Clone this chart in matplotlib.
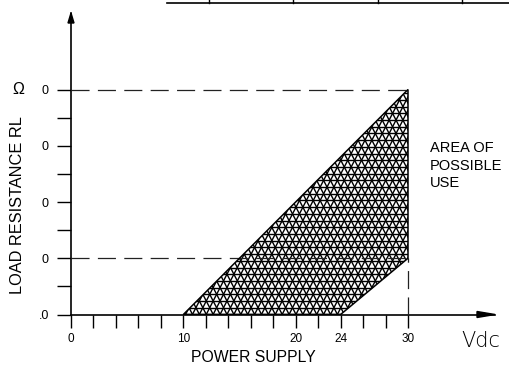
import numpy as np
import matplotlib
matplotlib.use("Agg")
import matplotlib.pyplot as plt
from matplotlib.patches import Polygon
from matplotlib.collections import LineCollection
from matplotlib.lines import Line2D

plt.rcParams['font.family'] = ['Liberation Sans', 'DejaVu Sans']
plt.rcParams['lines.scale_dashes'] = False

# ---- data ----
area_x = [10, 30, 30, 24]          # Vdc
area_y = [0, 4, 1, 0]              # load resistance (scale units)
ref_levels_y = [4, 1]              # dashed horizontal reference levels
ref_level_x = 30                   # dashed vertical reference
x_ticks = list(range(0, 31, 2))
x_tick_labels = {0: "0", 10: "10", 20: "20", 24: "24", 30: "30"}
y_ticks = [0, 1, 2, 3, 4]
y_tick_labels = [".0", "0", "0", "0", "0"]
y_minor_ticks = [0.5, 1.5, 2.5, 3.5]

W, H = 509, 365
fig = plt.figure(figsize=(W / 100, H / 100), dpi=100)

x0px, y0px = 71, 314.5          # axes origin in pixels (from top-left)
xtip, ytip = 495, 13
ppx_x = (408 - 71) / 30.0       # pixels per Vdc
ppx_y = (314.5 - 89.5) / 4.0    # pixels per y-unit

ax = fig.add_axes([x0px / W, (H - y0px) / H, (xtip - x0px) / W, (y0px - ytip) / H])
xmax = (xtip - x0px) / ppx_x
ymax = (y0px - ytip) / ppx_y
ax.set_xlim(0, xmax)
ax.set_ylim(0, ymax)
ax.patch.set_alpha(0)
for s in ['top', 'right']:
    ax.spines[s].set_visible(False)
for s in ['left', 'bottom']:
    ax.spines[s].set_linewidth(1.2)

ax.set_xticks(x_ticks)
ax.set_xticklabels([x_tick_labels.get(t, "") for t in x_ticks], fontsize=8.5)
ax.set_yticks(y_ticks)
ax.set_yticklabels(y_tick_labels, fontsize=9)
ax.set_yticks(y_minor_ticks, minor=True)
ax.tick_params(axis='x', direction='out', length=9.5, width=1.0, pad=4)
ax.tick_params(axis='y', which='both', direction='out', length=10, width=1.0, pad=6)

# arrowheads
hx = 18 / ppx_x; wx = 3 / ppx_y
ax.add_patch(Polygon([[xmax, 0], [xmax - hx, wx], [xmax - hx, -wx]], closed=True,
                     color='black', clip_on=False, zorder=5))
hy = 10 / ppx_y; wy = 3 / ppx_x
ax.add_patch(Polygon([[0, ymax], [-wy, ymax - hy], [wy, ymax - hy]], closed=True,
                     color='black', clip_on=False, zorder=5))

# dashed reference lines
for lv in ref_levels_y:
    ax.plot([0, ref_level_x], [lv, lv], color='#222222', lw=0.9,
            dashes=(13, 6), zorder=3, clip_on=False)
ax.plot([ref_level_x, ref_level_x], [0, min(ref_levels_y)], color='#222222', lw=0.9,
        dashes=(13, 6), zorder=3)

# area of possible use (outline)
poly = Polygon(list(zip(area_x, area_y)), closed=True, facecolor='none',
               edgecolor='black', lw=1.1, zorder=4)
ax.add_patch(poly)

# triangular hatch texture clipped to area
trans = ax.transData
pts = trans.transform(np.column_stack([area_x, area_y]))
xmin_p, ymin_p = pts.min(axis=0) - 20
xmax_p, ymax_p = pts.max(axis=0) + 20
hgap = 6.7
sgap = 6.9
segs = []
for yy in np.arange(ymin_p, ymax_p, hgap):
    segs.append([[xmin_p, yy], [xmax_p, yy]])
nrows = (ymax_p - ymin_p) / hgap + 1
dx_tot = nrows * sgap / 2
dy_tot = nrows * hgap
for xx in np.arange(xmin_p - dx_tot, xmax_p + dx_tot, sgap):
    for d in (1, -1):
        segs.append([[xx, ymin_p], [xx + d * dx_tot, ymin_p + dy_tot]])
inv = trans.inverted()
segs_data = [inv.transform(np.array(s)) for s in segs]
lc = LineCollection(segs_data, colors='black', linewidths=1.0, zorder=2)
ax.add_collection(lc)
clip_poly = Polygon(list(zip(area_x, area_y)), closed=True, transform=ax.transData)
lc.set_clip_path(clip_poly)

# texts
ax.text((18 - x0px) / ppx_x, 4, "Ω", fontsize=11.5, ha='center', va='center', clip_on=False)
ax.text((18 - x0px) / ppx_x, (y0px - 205) / ppx_y, "LOAD RESISTANCE RL", fontsize=11.8,
        rotation=90, ha='center', va='center', clip_on=False)
ax.text((253 - x0px) / ppx_x, (y0px - 357) / ppx_y, "POWER SUPPLY", fontsize=11.3,
        ha='center', va='center', clip_on=False)
ax.text((481 - x0px) / ppx_x, (y0px - 341) / ppx_y, "Vdc", fontsize=15,
        family='DejaVu Sans', fontweight='light', ha='center', va='center', clip_on=False)
ax.text((430 - x0px) / ppx_x, (y0px - 165.5) / ppx_y, "AREA OF\nPOSSIBLE\nUSE", fontsize=10.5,
        ha='left', va='center', linespacing=1.3, clip_on=False)

# partial table border at the top edge
ty = 1 - 2.5 / H
fig.add_artist(Line2D([167 / W, 1], [ty, ty], color='black', lw=1.2))
for tx in [209, 293, 378, 462]:
    fig.add_artist(Line2D([tx / W, tx / W], [ty, 1], color='black', lw=1.0))

fig.savefig("out.png", dpi=100)
